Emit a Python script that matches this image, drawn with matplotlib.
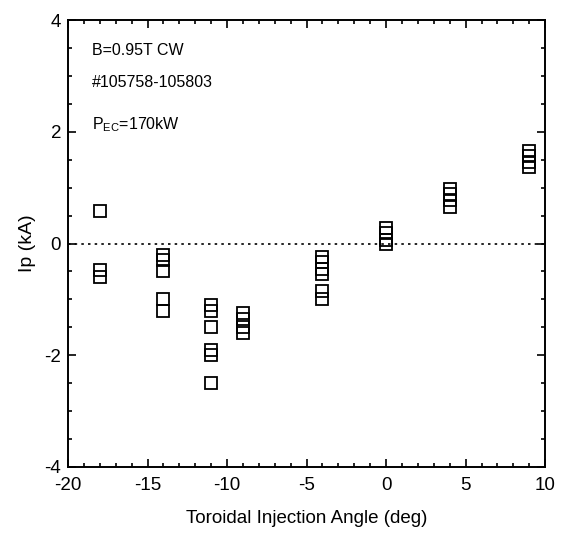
import matplotlib
matplotlib.use("Agg")
from matplotlib import pyplot as plt
from matplotlib.ticker import MultipleLocator

plt.rcParams['font.family'] = ['Liberation Sans', 'DejaVu Sans']
plt.rcParams['axes.unicode_minus'] = False
plt.rcParams['mathtext.fontset'] = 'custom'
plt.rcParams['mathtext.rm'] = 'Liberation Sans'

# injection angle (deg) and plasma current (kA)
angle = [-18, -18, -18,
         -14, -14, -14, -14, -14,
         -11, -11, -11, -11, -11, -11,
         -9, -9, -9, -9,
         -4, -4, -4, -4, -4, -4,
         0, 0, 0, 0,
         4, 4, 4, 4,
         9, 9, 9, 9]
ip = [0.58, -0.47, -0.6,
      -0.2, -0.3, -0.5, -1.0, -1.2,
      -1.1, -1.2, -1.5, -1.9, -2.0, -2.5,
      -1.25, -1.35, -1.5, -1.6,
      -0.25, -0.33, -0.45, -0.55, -0.85, -1.0,
      0.28, 0.18, 0.06, 0.0,
      0.98, 0.88, 0.78, 0.66,
      1.66, 1.56, 1.46, 1.37]

notes = ["B=0.95T CW", "#105758-105803", r"P$_{\rm EC}$=170kW"]

fig = plt.figure(figsize=(5.62, 5.34), dpi=100)
ax = fig.add_axes([0.121, 0.1255, 0.849, 0.837])

ax.axhline(0, color='k', lw=1.2, ls=(0, (1.5, 2.5)))
ax.plot(angle, ip, ls='none', marker='s', ms=8, mfc='none', mec='k', mew=1.3)

ax.set_xlim(-20, 10)
ax.set_ylim(-4, 4)
ax.xaxis.set_major_locator(MultipleLocator(5))
ax.xaxis.set_minor_locator(MultipleLocator(1))
ax.yaxis.set_major_locator(MultipleLocator(2))
ax.yaxis.set_minor_locator(MultipleLocator(0.5))
ax.tick_params(which='both', direction='in', top=True, right=True, labelsize=13.5, width=1.2)
ax.tick_params(which='major', length=6)
ax.tick_params(axis='x', which='major', pad=7)
ax.tick_params(axis='y', which='major', pad=5)
ax.tick_params(which='minor', length=3)
for s in ax.spines.values():
    s.set_linewidth(1.4)

ax.set_xlabel("Toroidal Injection Angle (deg)", fontsize=13.5, labelpad=12)
ax.set_ylabel("Ip (kA)", fontsize=14, labelpad=6)

ax.text(-18.5, 3.46, notes[0], fontsize=11.5, va='center')
ax.text(-18.5, 2.88, notes[1], fontsize=11.5, va='center')
ax.text(-18.5, 2.12, notes[2], fontsize=11.5, va='center')

fig.savefig("out.png", dpi=100)
